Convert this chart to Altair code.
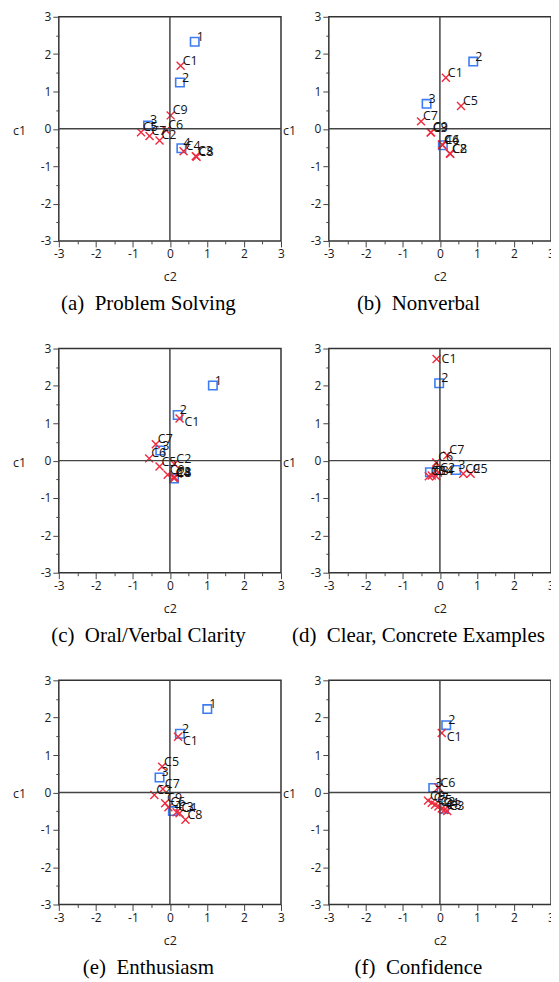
import altair as alt
import pandas as pd

captions = ["(a)\u2002Problem Solving", "(b)\u2002Nonverbal", "(c)\u2002Oral/Verbal Clarity",
            "(d)\u2002Clear, Concrete Examples", "(e)\u2002Enthusiasm", "(f)\u2002Confidence"]

cr_lab = ["C1", "C2", "C3", "C4", "C5", "C6", "C7", "C8", "C9"]

a_sq_lab = ["1", "2", "3", "4"]
a_sq_c2 = [0.67, 0.27, -0.59, 0.31]
a_sq_c1 = [2.33, 1.24, 0.09, -0.52]
a_cr_c2 = [0.29, -0.28, 0.70, 0.37, -0.78, -0.10, -0.55, 0.72, 0.02]
a_cr_c1 = [1.69, -0.31, -0.73, -0.60, -0.09, -0.04, -0.19, -0.75, 0.36]

b_sq_lab = ["2", "3", "4"]
b_sq_c2 = [0.90, -0.36, 0.08]
b_sq_c1 = [1.80, 0.67, -0.44]
b_cr_c2 = [0.16, 0.27, -0.25, 0.06, 0.57, 0.07, -0.51, 0.28, -0.24]
b_cr_c1 = [1.37, -0.66, -0.10, -0.42, 0.61, -0.44, 0.20, -0.67, -0.09]

c_sq_lab = ["1", "2", "3", "4"]
c_sq_c2 = [1.16, 0.21, -0.26, 0.11]
c_sq_c1 = [2.01, 1.22, 0.27, -0.48]
c_cr_c2 = [0.26, 0.12, 0.12, 0.10, -0.28, -0.56, -0.38, 0.12, -0.06]
c_cr_c1 = [1.13, -0.09, -0.44, -0.46, -0.16, 0.06, 0.44, -0.47, -0.38]

d_sq_lab = ["2", "3", "4"]
d_sq_c2 = [-0.02, 0.44, -0.27]
d_sq_c1 = [2.07, -0.25, -0.31]
d_cr_c2 = [-0.09, -0.05, -0.30, -0.10, 0.83, -0.10, 0.20, -0.22, 0.63]
d_cr_c1 = [2.72, -0.32, -0.42, -0.42, -0.35, -0.05, 0.14, -0.40, -0.35]

e_sq_lab = ["1", "2", "3", "4"]
e_sq_c2 = [1.01, 0.27, -0.28, 0.08]
e_sq_c1 = [2.23, 1.57, 0.40, -0.50]
e_cr_c2 = [0.22, -0.42, 0.18, 0.26, -0.21, -0.04, -0.19, 0.42, -0.13]
e_cr_c1 = [1.49, -0.07, -0.53, -0.56, 0.69, -0.40, 0.09, -0.73, -0.29]

f_sq_lab = ["2", "3", "4"]
f_sq_c2 = [0.17, -0.18, 0.11]
f_sq_c1 = [1.80, 0.12, -0.44]
f_cr_c2 = [0.05, -0.04, 0.20, 0.05, -0.13, -0.04, -0.22, 0.12, -0.32]
f_cr_c1 = [1.59, -0.38, -0.50, -0.43, -0.33, 0.13, -0.28, -0.47, -0.22]

# label placement (style): default upper-right
label_below = {"c": ["C1"], "e": ["C1"], "f": ["C1"]}
label_right = {"d": ["C1"]}

panels = [
    ("a", a_sq_lab, a_sq_c2, a_sq_c1, a_cr_c2, a_cr_c1),
    ("b", b_sq_lab, b_sq_c2, b_sq_c1, b_cr_c2, b_cr_c1),
    ("c", c_sq_lab, c_sq_c2, c_sq_c1, c_cr_c2, c_cr_c1),
    ("d", d_sq_lab, d_sq_c2, d_sq_c1, d_cr_c2, d_cr_c1),
    ("e", e_sq_lab, e_sq_c2, e_sq_c1, e_cr_c2, e_cr_c1),
    ("f", f_sq_lab, f_sq_c2, f_sq_c1, f_cr_c2, f_cr_c1),
]

BLUE = "#3d7cf2"
RED = "#ee2a3e"
TICKS = [v / 2 for v in range(-6, 7)]
SANS = "Open Sans"

tick_size = {"condition": {"test": "datum.value % 1 === 0", "value": 6}, "value": 3}
label_expr = "datum.value % 1 === 0 ? toString(datum.value) : ''"

scale = alt.Scale(domain=[-3, 3], nice=False, zero=False)

x_axis = alt.Axis(values=TICKS, labelExpr=label_expr, tickSize=tick_size,
                  labelFlush=False, labelOverlap=False, titlePadding=11)
y_axis = alt.Axis(values=TICKS, labelExpr=label_expr, tickSize=tick_size,
                  labelFlush=False, labelOverlap=False, titleAngle=0,
                  titleAlign="center", titleBaseline="middle",
                  titleX=-40, titleY=114)


def make_panel(key, sq_lab, sq_c2, sq_c1, cr_c2, cr_c1, caption):
    rows = []
    for l, x, y in zip(sq_lab, sq_c2, sq_c1):
        rows.append({"c2": x, "c1": y, "label": l, "kind": "sq"})
    for l, x, y in zip(cr_lab, cr_c2, cr_c1):
        rows.append({"c2": x, "c1": y, "label": l, "kind": "cr"})
    df = pd.DataFrame(rows)
    df["pos"] = "ur"
    df.loc[df["label"].isin(label_below.get(key, [])), "pos"] = "br"
    df.loc[df["label"].isin(label_right.get(key, [])), "pos"] = "r"

    x = alt.X("c2:Q", scale=scale, title="c2", axis=x_axis)
    y = alt.Y("c1:Q", scale=scale, title="c1", axis=y_axis)

    base = alt.Chart(df).encode(x=x, y=y)
    zero = alt.Chart(pd.DataFrame({"v": [0]}))
    hline = zero.mark_rule(color="#444444", strokeWidth=1.5).encode(
        y=alt.Y(datum=0, scale=scale, title="c1", axis=y_axis))
    vline = zero.mark_rule(color="#444444", strokeWidth=1.5).encode(
        x=alt.X(datum=0, scale=scale, title="c2", axis=x_axis))

    squares = base.transform_filter("datum.kind == 'sq'").mark_point(
        shape="square", filled=False, size=72, strokeWidth=1.6, color=BLUE, opacity=1)
    crosses = base.transform_filter("datum.kind == 'cr'").mark_point(
        shape="M-1,-1L1,1M1,-1L-1,1", filled=False, size=64, strokeWidth=1.4, color=RED, opacity=1)
    txt_ur = base.transform_filter("datum.pos == 'ur'").mark_text(
        align="left", baseline="alphabetic", dx=2, dy=-1, font=SANS, fontSize=12.5, color="#111111"
    ).encode(text="label:N")
    txt_br = base.transform_filter("datum.pos == 'br'").mark_text(
        align="left", baseline="top", dx=5, dy=-2, font=SANS, fontSize=12.5, color="#111111"
    ).encode(text="label:N")
    txt_r = base.transform_filter("datum.pos == 'r'").mark_text(
        align="left", baseline="middle", dx=5, dy=0, font=SANS, fontSize=12.5, color="#111111"
    ).encode(text="label:N")

    return alt.layer(squares, crosses, hline, vline, txt_ur, txt_br, txt_r).properties(
        width=223, height=225,
        title=alt.TitleParams(text=caption, orient="bottom", anchor="middle", frame="bounds",
                              font="Liberation Serif", fontSize=21, fontWeight="normal",
                              color="#000000", offset=10),
    )


charts = [make_panel(*p, cap) for p, cap in zip(panels, captions)]

chart = alt.ConcatChart(
    concat=charts, columns=2, spacing={"row": 108, "column": 48}, bounds="flush",
    padding={"left": 3, "top": 0, "right": -5, "bottom": 0},
).configure_view(
    stroke="#333333", strokeWidth=1.5
).configure_axis(
    grid=False, domain=False, tickColor="#444444", tickWidth=1,
    labelFont=SANS, labelFontSize=12, labelColor="#1a1a1a", labelPadding=2,
    labelOverlap=False,
    titleFont=SANS, titleFontSize=12.5, titleFontWeight="normal", titleColor="#1a1a1a",
)

chart.save("out.html", embed_options={"renderer": "svg", "actions": False})
